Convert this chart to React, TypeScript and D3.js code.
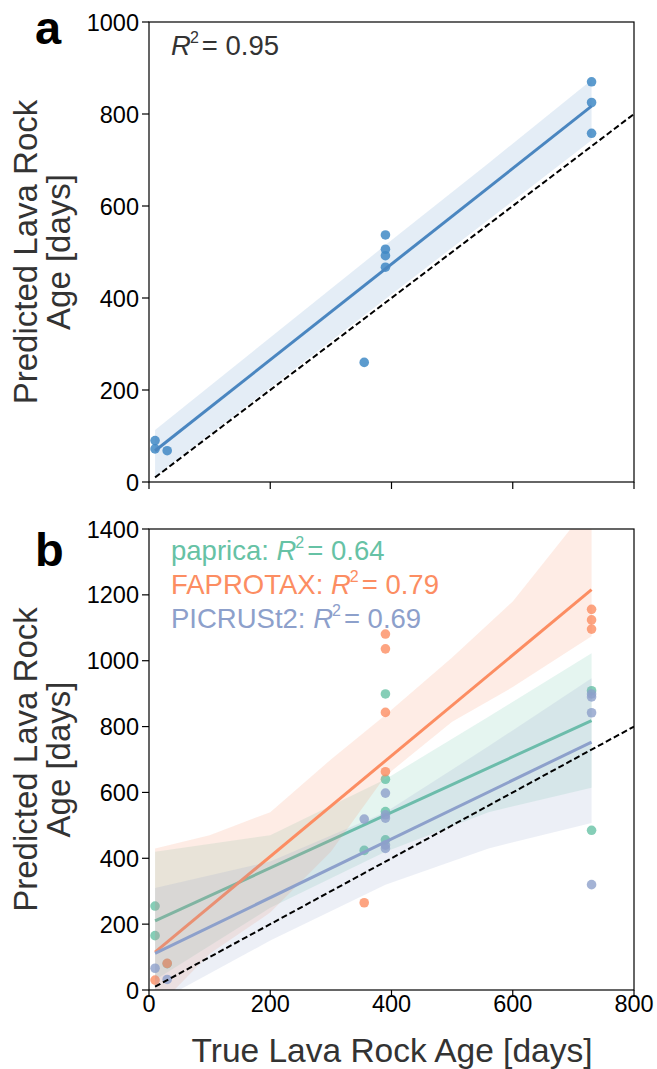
import React from 'react';
import * as d3 from 'd3';

// ---------- data ----------
const xTicks = [0, 200, 400, 600, 800];
const yTicksA = [0, 200, 400, 600, 800, 1000];
const yTicksB = [0, 200, 400, 600, 800, 1000, 1200, 1400];

// panel a
const aX = [10, 10, 30, 355, 390, 390, 390, 390, 730, 730, 730];
const aY = [90, 72, 68, 260, 537, 506, 492, 467, 870, 825, 758];
const aFitX = [10, 730];
const aFitY = [68, 817];
const aBandX = [10, 200, 390, 560, 730];
const aBandLo = [12, 205, 398, 570, 743];
const aBandHi = [113, 314, 515, 693, 874];

// panel b — paprica
const papX = [10, 10, 30, 355, 390, 390, 390, 390, 730, 730];
const papY = [255, 165, 80, 424, 899, 640, 542, 456, 909, 485];
const papFitX = [10, 730];
const papFitY = [210, 818];
const papBandX = [10, 200, 390, 560, 730];
const papBandLo = [30, 250, 420, 540, 614];
const papBandHi = [420, 470, 640, 830, 1023];

// panel b — FAPROTAX
const fapX = [10, 30, 355, 390, 390, 390, 390, 730, 730, 730];
const fapY = [30, 81, 265, 1081, 1036, 843, 663, 1156, 1124, 1096];
const fapFitX = [10, 730];
const fapFitY = [115, 1216];
const fapBandX = [10, 100, 200, 300, 390, 500, 600, 730];
const fapBandLo = [-60, 110, 235, 420, 650, 815, 920, 1074];
const fapBandHi = [430, 470, 540, 700, 835, 1010, 1180, 1480];

// panel b — PICRUSt2
const picX = [10, 30, 355, 390, 390, 390, 390, 390, 730, 730, 730, 730];
const picY = [66, 32, 519, 598, 532, 522, 440, 430, 899, 890, 842, 320];
const picFitX = [10, 730];
const picFitY = [111, 753];
const picBandX = [10, 200, 390, 560, 730];
const picBandLo = [-40, 150, 320, 430, 507];
const picBandHi = [310, 390, 540, 740, 947];

const identityX = [10, 800];

const labelsB = ['paprica', 'FAPROTAX', 'PICRUSt2'];
const r2B = ['0.64', '0.79', '0.69'];
const colorsB = ['#66c2a5', '#fc8d62', '#8da0cb'];

// ---------- layout ----------
const W = 657;
const H = 1069;
const left = 149;
const right = 634;
const aTop = 22;
const aBottom = 482;
const bTop = 529;
const bBottom = 990;
const FONT = '"Liberation Sans", Arial, Helvetica, sans-serif';

const x = d3.scaleLinear().domain([0, 800]).range([left, right]);
const yA = d3.scaleLinear().domain([0, 1000]).range([aBottom, aTop]);
const yB = d3.scaleLinear().domain([0, 1400]).range([bBottom, bTop]);

type Scale = d3.ScaleLinear<number, number>;

function band(xs: number[], lo: number[], hi: number[], y: Scale) {
  const pts = xs.map((v, i) => [v, lo[i], hi[i]] as [number, number, number]);
  return (
    d3
      .area<[number, number, number]>()
      .x((d) => x(d[0]))
      .y0((d) => y(d[1]))
      .y1((d) => y(d[2]))(pts) || ''
  );
}

function line(xs: number[], ys: number[], y: Scale) {
  const pts = xs.map((v, i) => [v, ys[i]] as [number, number]);
  return (
    d3
      .line<[number, number]>()
      .x((d) => x(d[0]))
      .y((d) => y(d[1]))(pts) || ''
  );
}

function Axes({ y, ticks, top, bottom, showX }: { y: Scale; ticks: number[]; top: number; bottom: number; showX: boolean }) {
  return (
    <g>
      <rect x={left} y={top} width={right - left} height={bottom - top} fill="none" stroke="#000" strokeWidth={1.2} />
      {ticks.map((t) => (
        <g key={'y' + t}>
          <line x1={left - 7} x2={left} y1={y(t)} y2={y(t)} stroke="#000" strokeWidth={1.2} />
          <text x={left - 10} y={y(t) + 8.5} textAnchor="end" fontSize={23.5} fill="#000" fontFamily={FONT}>
            {t}
          </text>
        </g>
      ))}
      {xTicks.map((t) => (
        <g key={'x' + t}>
          <line x1={x(t)} x2={x(t)} y1={bottom} y2={bottom + 7} stroke="#000" strokeWidth={1.2} />
          {showX && (
            <text x={x(t)} y={bottom + 22} textAnchor="middle" fontSize={23.5} fill="#000" fontFamily={FONT}>
              {t}
            </text>
          )}
        </g>
      ))}
    </g>
  );
}

function YLabel({ cy }: { cy: number }) {
  return (
    <text transform={`translate(37,${cy}) rotate(-90)`} textAnchor="middle" fontSize={33} fill="#333" fontFamily={FONT}>
      <tspan x={0} y={0}>Predicted Lava Rock</tspan>
      <tspan x={0} y={33}>Age [days]</tspan>
    </text>
  );
}

function R2Text({ x0, y0, prefix, value, color }: { x0: number; y0: number; prefix: string; value: string; color: string }) {
  return (
    <text x={x0} y={y0} fontSize={27.5} fill={color} fontFamily={FONT}>
      {prefix}
      <tspan fontStyle="italic">R</tspan>
      <tspan fontSize={16} dx={-1} dy={-12}>2</tspan>
      <tspan dx={3} dy={12}>= {value}</tspan>
    </text>
  );
}

export default function App() {
  const seriesB = [
    { xs: papX, ys: papY, fx: papFitX, fy: papFitY, bx: papBandX, lo: papBandLo, hi: papBandHi },
    { xs: fapX, ys: fapY, fx: fapFitX, fy: fapFitY, bx: fapBandX, lo: fapBandLo, hi: fapBandHi },
    { xs: picX, ys: picY, fx: picFitX, fy: picFitY, bx: picBandX, lo: picBandLo, hi: picBandHi },
  ];
  const aColor = '#4a86c0';
  const aPoint = '#3f8ac6';
  return (
    <svg width={W} height={H} style={{ position: 'absolute', left: 0, top: 0, background: '#fff' }} fontFamily={FONT}>
      <defs>
        <clipPath id="clipA">
          <rect x={left} y={aTop} width={right - left} height={aBottom - aTop} />
        </clipPath>
        <clipPath id="clipB">
          <rect x={left} y={bTop} width={right - left} height={bBottom - bTop} />
        </clipPath>
      </defs>

      {/* Panel a */}
      <g clipPath="url(#clipA)">
        <path d={line(identityX, identityX, yA)} stroke="#000" strokeWidth={2} strokeDasharray="6,3" fill="none" />
        {aX.map((v, i) => (
          <circle key={i} cx={x(v)} cy={yA(aY[i])} r={4.8} fill={aPoint} fillOpacity={0.85} />
        ))}
        <path d={band(aBandX, aBandLo, aBandHi, yA)} fill={aColor} fillOpacity={0.15} />
        <path d={line(aFitX, aFitY, yA)} stroke={aColor} strokeWidth={3} fill="none" />
      </g>
      <Axes y={yA} ticks={yTicksA} top={aTop} bottom={aBottom} showX={false} />
      <R2Text x0={171} y0={55} prefix="" value="0.95" color="#333" />
      <text x={35} y={44} fontSize={47} fontWeight="bold" fill="#000" fontFamily={FONT}>a</text>
      <YLabel cy={(aTop + aBottom) / 2} />

      {/* Panel b */}
      <g clipPath="url(#clipB)">
        {seriesB.map((s, k) => (
          <g key={k}>
            {s.xs.map((v, i) => (
              <circle key={i} cx={x(v)} cy={yB(s.ys[i])} r={4.8} fill={colorsB[k]} fillOpacity={0.8} />
            ))}
            <path d={band(s.bx, s.lo, s.hi, yB)} fill={colorsB[k]} fillOpacity={0.17} />
            <path d={line(s.fx, s.fy, yB)} stroke={colorsB[k]} strokeWidth={3} fill="none" />
          </g>
        ))}
        <path d={line(identityX, identityX, yB)} stroke="#000" strokeWidth={2} strokeDasharray="6,3" fill="none" />
      </g>
      <Axes y={yB} ticks={yTicksB} top={bTop} bottom={bBottom} showX={true} />
      {labelsB.map((lab, k) => (
        <R2Text key={lab} x0={171} y0={560 + k * 34} prefix={lab + ': '} value={r2B[k]} color={colorsB[k]} />
      ))}
      <text x={35} y={566} fontSize={47} fontWeight="bold" fill="#000" fontFamily={FONT}>b</text>
      <YLabel cy={(bTop + bBottom) / 2} />
      <text x={392} y={1062} textAnchor="middle" fontSize={33.5} fill="#333" fontFamily={FONT}>
        True Lava Rock Age [days]
      </text>
    </svg>
  );
}
